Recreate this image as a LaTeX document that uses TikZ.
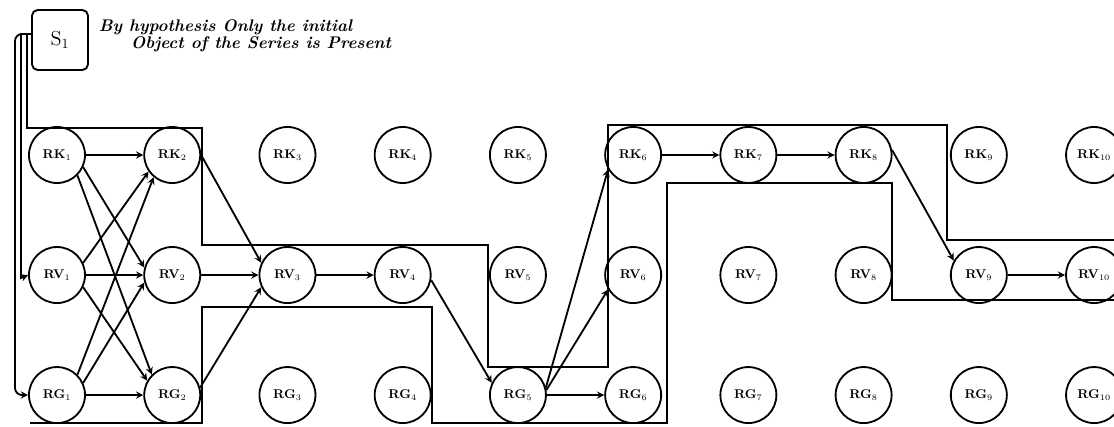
\documentclass[tikz,border=0pt]{standalone}
\usepackage{tikz}
\begin{document}
\begin{tikzpicture}[x=0.025cm, y=-0.025cm, >=stealth, line width=1.3pt, node distance=2.88cm,
        ring/.style={draw, circle, minimum size=1.4cm, inner sep=0pt, font=\small\bfseries}]
        \useasboundingbox (0,0) rectangle (1114,427);
        \node (S1) at (60,40) [draw, rounded corners, minimum width=1.4cm, minimum height=1.5cm, font=\Large] {S$_1$};
        \node (Note) at (98,19) [anchor=north west, align=left, inner sep=0pt, font=\large\bfseries\itshape] {By hypothesis Only the initial\\[-2pt]\hspace*{0.8cm}Object of the Series is Present};
        % top row
        \node (RK1) at (57,155) [ring] {RK$_1$};
        \node (RK2) [right of=RK1, ring] {RK$_2$};
        \node (RK3) [right of=RK2, ring] {RK$_3$};
        \node (RK4) [right of=RK3, ring] {RK$_4$};
        \node (RK5) [right of=RK4, ring] {RK$_5$};
        \node (RK6) [right of=RK5, ring] {RK$_6$};
        \node (RK7) [right of=RK6, ring] {RK$_7$};
        \node (RK8) [right of=RK7, ring] {RK$_8$};
        \node (RK9) [right of=RK8, ring] {RK$_9$};
        \node (RK10) [right of=RK9, ring] {RK$_{10}$};
        % middle row
        \node (RV1) [below of=RK1, node distance=3cm, ring] {RV$_1$};
        \node (RV2) [right of=RV1, ring] {RV$_2$};
        \node (RV3) [right of=RV2, ring] {RV$_3$};
        \node (RV4) [right of=RV3, ring] {RV$_4$};
        \node (RV5) [right of=RV4, ring] {RV$_5$};
        \node (RV6) [right of=RV5, ring] {RV$_6$};
        \node (RV7) [right of=RV6, ring] {RV$_7$};
        \node (RV8) [right of=RV7, ring] {RV$_8$};
        \node (RV9) [right of=RV8, ring] {RV$_9$};
        \node (RV10) [right of=RV9, ring] {RV$_{10}$};
        % bottom row
        \node (RG1) [below of=RV1, node distance=3cm, ring] {RG$_1$};
        \node (RG2) [right of=RG1, ring] {RG$_2$};
        \node (RG3) [right of=RG2, ring] {RG$_3$};
        \node (RG4) [right of=RG3, ring] {RG$_4$};
        \node (RG5) [right of=RG4, ring] {RG$_5$};
        \node (RG6) [right of=RG5, ring] {RG$_6$};
        \node (RG7) [right of=RG6, ring] {RG$_7$};
        \node (RG8) [right of=RG7, ring] {RG$_8$};
        \node (RG9) [right of=RG8, ring] {RG$_9$};
        \node (RG10) [right of=RG9, ring] {RG$_{10}$};
        % the series band
        \draw ([yshift=1.5mm]S1.west) -| (27,128) -- (202,128) -- (202,245) -- (488,245) -- (488,367) -- (608,367)
            -- (608,125) -- (947,125) -- (947,240) -- (1114,240);
        \draw (1114,300) -- (892,300) -- (892,183) -- (667,183) -- (667,423) -- (432,423) -- (432,307)
            -- (202,307) -- (202,423) -- (30,423);
        \draw [->] ([yshift=1.5mm]S1.west) -| (21,278) -- (RV1.west);
        \draw [->, rounded corners=5pt] ([yshift=1.5mm]S1.west) -| (15,395) -- (RG1.west);
        % first step
        \draw [->] (RK1) -- (RK2);
        \draw [->] (RV1) -- (RV2);
        \draw [->] (RG1) -- (RG2);
        \draw [->] (RK1.-25) -- (RV2.165);
        \draw [->] (RK1.-45) -- (RG2.135);
        \draw [->] (RV1.25) -- (RK2.215);
        \draw [->] (RV1.-25) -- (RG2.150);
        \draw [->] (RG1.45) -- (RK2.230);
        \draw [->] (RG1.25) -- (RV2.195);
        % further steps
        \draw [->] (RK2.east) -- (RV3.155);
        \draw [->] (RV2) -- (RV3);
        \draw [->] (RG2.15) -- (RV3.205);
        \draw [->] (RV3) -- (RV4);
        \draw [->] (RV4.-10) -- (RG5.155);
        \draw [->] (RG5.15) -- (RK6.210);
        \draw [->] (RG5.10) -- (RV6.210);
        \draw [->] (RG5) -- (RG6);
        \draw [->] (RK6) -- (RK7);
        \draw [->] (RK7) -- (RK8);
        \draw [->] (RK8.10) -- (RV9.150);
        \draw [->] (RV9) -- (RV10);
    \end{tikzpicture}
\end{document}
